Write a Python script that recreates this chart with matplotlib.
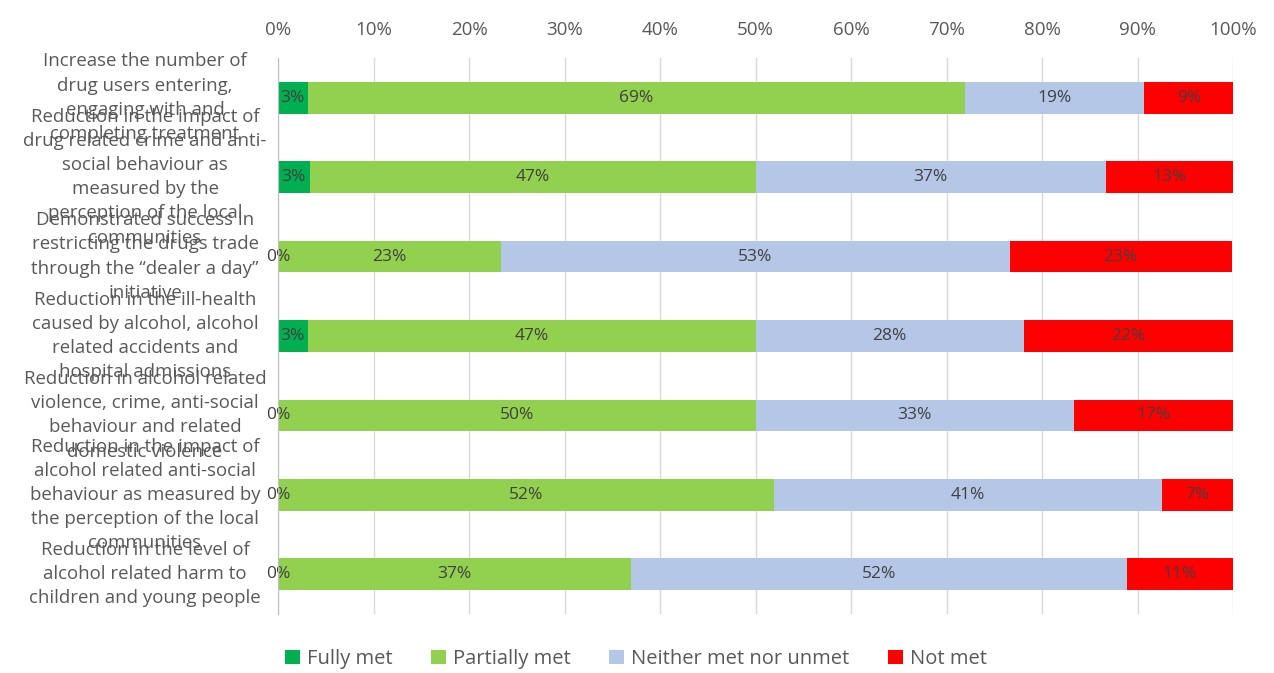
import matplotlib.pyplot as plt
import matplotlib.transforms as mtransforms
from matplotlib.patches import Patch

categories = [
    "Increase the number of\ndrug users entering,\nengaging with and\ncompleting treatment",
    "Reduction in the impact of\ndrug related crime and anti-\nsocial behaviour as\nmeasured by the\nperception of the local\ncommunities",
    "Demonstrated success in\nrestricting the drugs trade\nthrough the \u201cdealer a day\u201d\ninitiative",
    "Reduction in the ill-health\ncaused by alcohol, alcohol\nrelated accidents and\nhospital admissions",
    "Reduction in alcohol related\nviolence, crime, anti-social\nbehaviour and related\ndomestic violence",
    "Reduction in the impact of\nalcohol related anti-social\nbehaviour as measured by\nthe perception of the local\ncommunities",
    "Reduction in the level of\nalcohol related harm to\nchildren and young people",
]
series = ["Fully met", "Partially met", "Neither met nor unmet", "Not met"]
fully = [3.1, 3.3, 0.0, 3.1, 0.0, 0.0, 0.0]
partially = [68.8, 46.7, 23.3, 46.9, 50.0, 51.9, 37.0]
neither = [18.8, 36.7, 53.3, 28.1, 33.3, 40.7, 51.9]
notmet = [9.4, 13.3, 23.3, 21.9, 16.7, 7.4, 11.1]
colors = ["#00B050", "#92D050", "#B4C7E7", "#FF0000"]

plt.rcParams['font.family'] = ['Open Sans', 'DejaVu Sans']
txt = "#595959"

fig = plt.figure(figsize=(12.74, 6.73), dpi=100)
ax = fig.add_axes([278 / 1274, 0.0877, (1233 - 278) / 1274, 0.9138 - 0.0877])

ypos = list(range(len(categories)))
left = [0.0] * len(categories)
for name, vals, col in zip(series, [fully, partially, neither, notmet], colors):
    ax.barh(ypos, vals, left=left, height=0.40, color=col, label=name, zorder=3)
    for y, l, v in zip(ypos, left, vals):
        ax.text(l + v / 2, y, f"{round(v):.0f}%", ha='center', va='center',
                fontsize=12.5, color="#404040", zorder=4)
    left = [a + b for a, b in zip(left, vals)]

ax.set_xlim(0, 100)
ax.set_ylim(len(categories) - 0.5, -0.5)
ax.set_xticks(range(0, 101, 10))
ax.set_xticklabels([f"{t}%" for t in range(0, 101, 10)])
ax.xaxis.tick_top()
ax.tick_params(axis='x', length=0, labelsize=13.5, colors=txt, pad=14)
ax.set_yticks([])
ax.grid(axis='x', color="#D9D9D9", linewidth=1, zorder=0)
for s in ['top', 'right', 'bottom']:
    ax.spines[s].set_visible(False)
ax.spines['left'].set_color("#BFBFBF")
ax.spines['left'].set_zorder(5)

# category labels sit in the margin, centred on each bar (they overlap like the original)
trans = mtransforms.blended_transform_factory(fig.transFigure, ax.transData)
for y, c in zip(ypos, categories):
    ax.text(145 / 1274, y, c, transform=trans, ha='center', va='center',
            fontsize=13.4, color=txt, linespacing=1.44, clip_on=False)

handles = [Patch(facecolor=c, edgecolor='none') for c in colors]
fig.legend(handles, series, loc='lower center', bbox_to_anchor=(0.499, -0.021),
           ncol=4, frameon=False, fontsize=14.5, handlelength=0.75, handleheight=0.75,
           handletextpad=0.35, columnspacing=1.9, labelcolor=txt)

fig.savefig("out.png", dpi=100)
